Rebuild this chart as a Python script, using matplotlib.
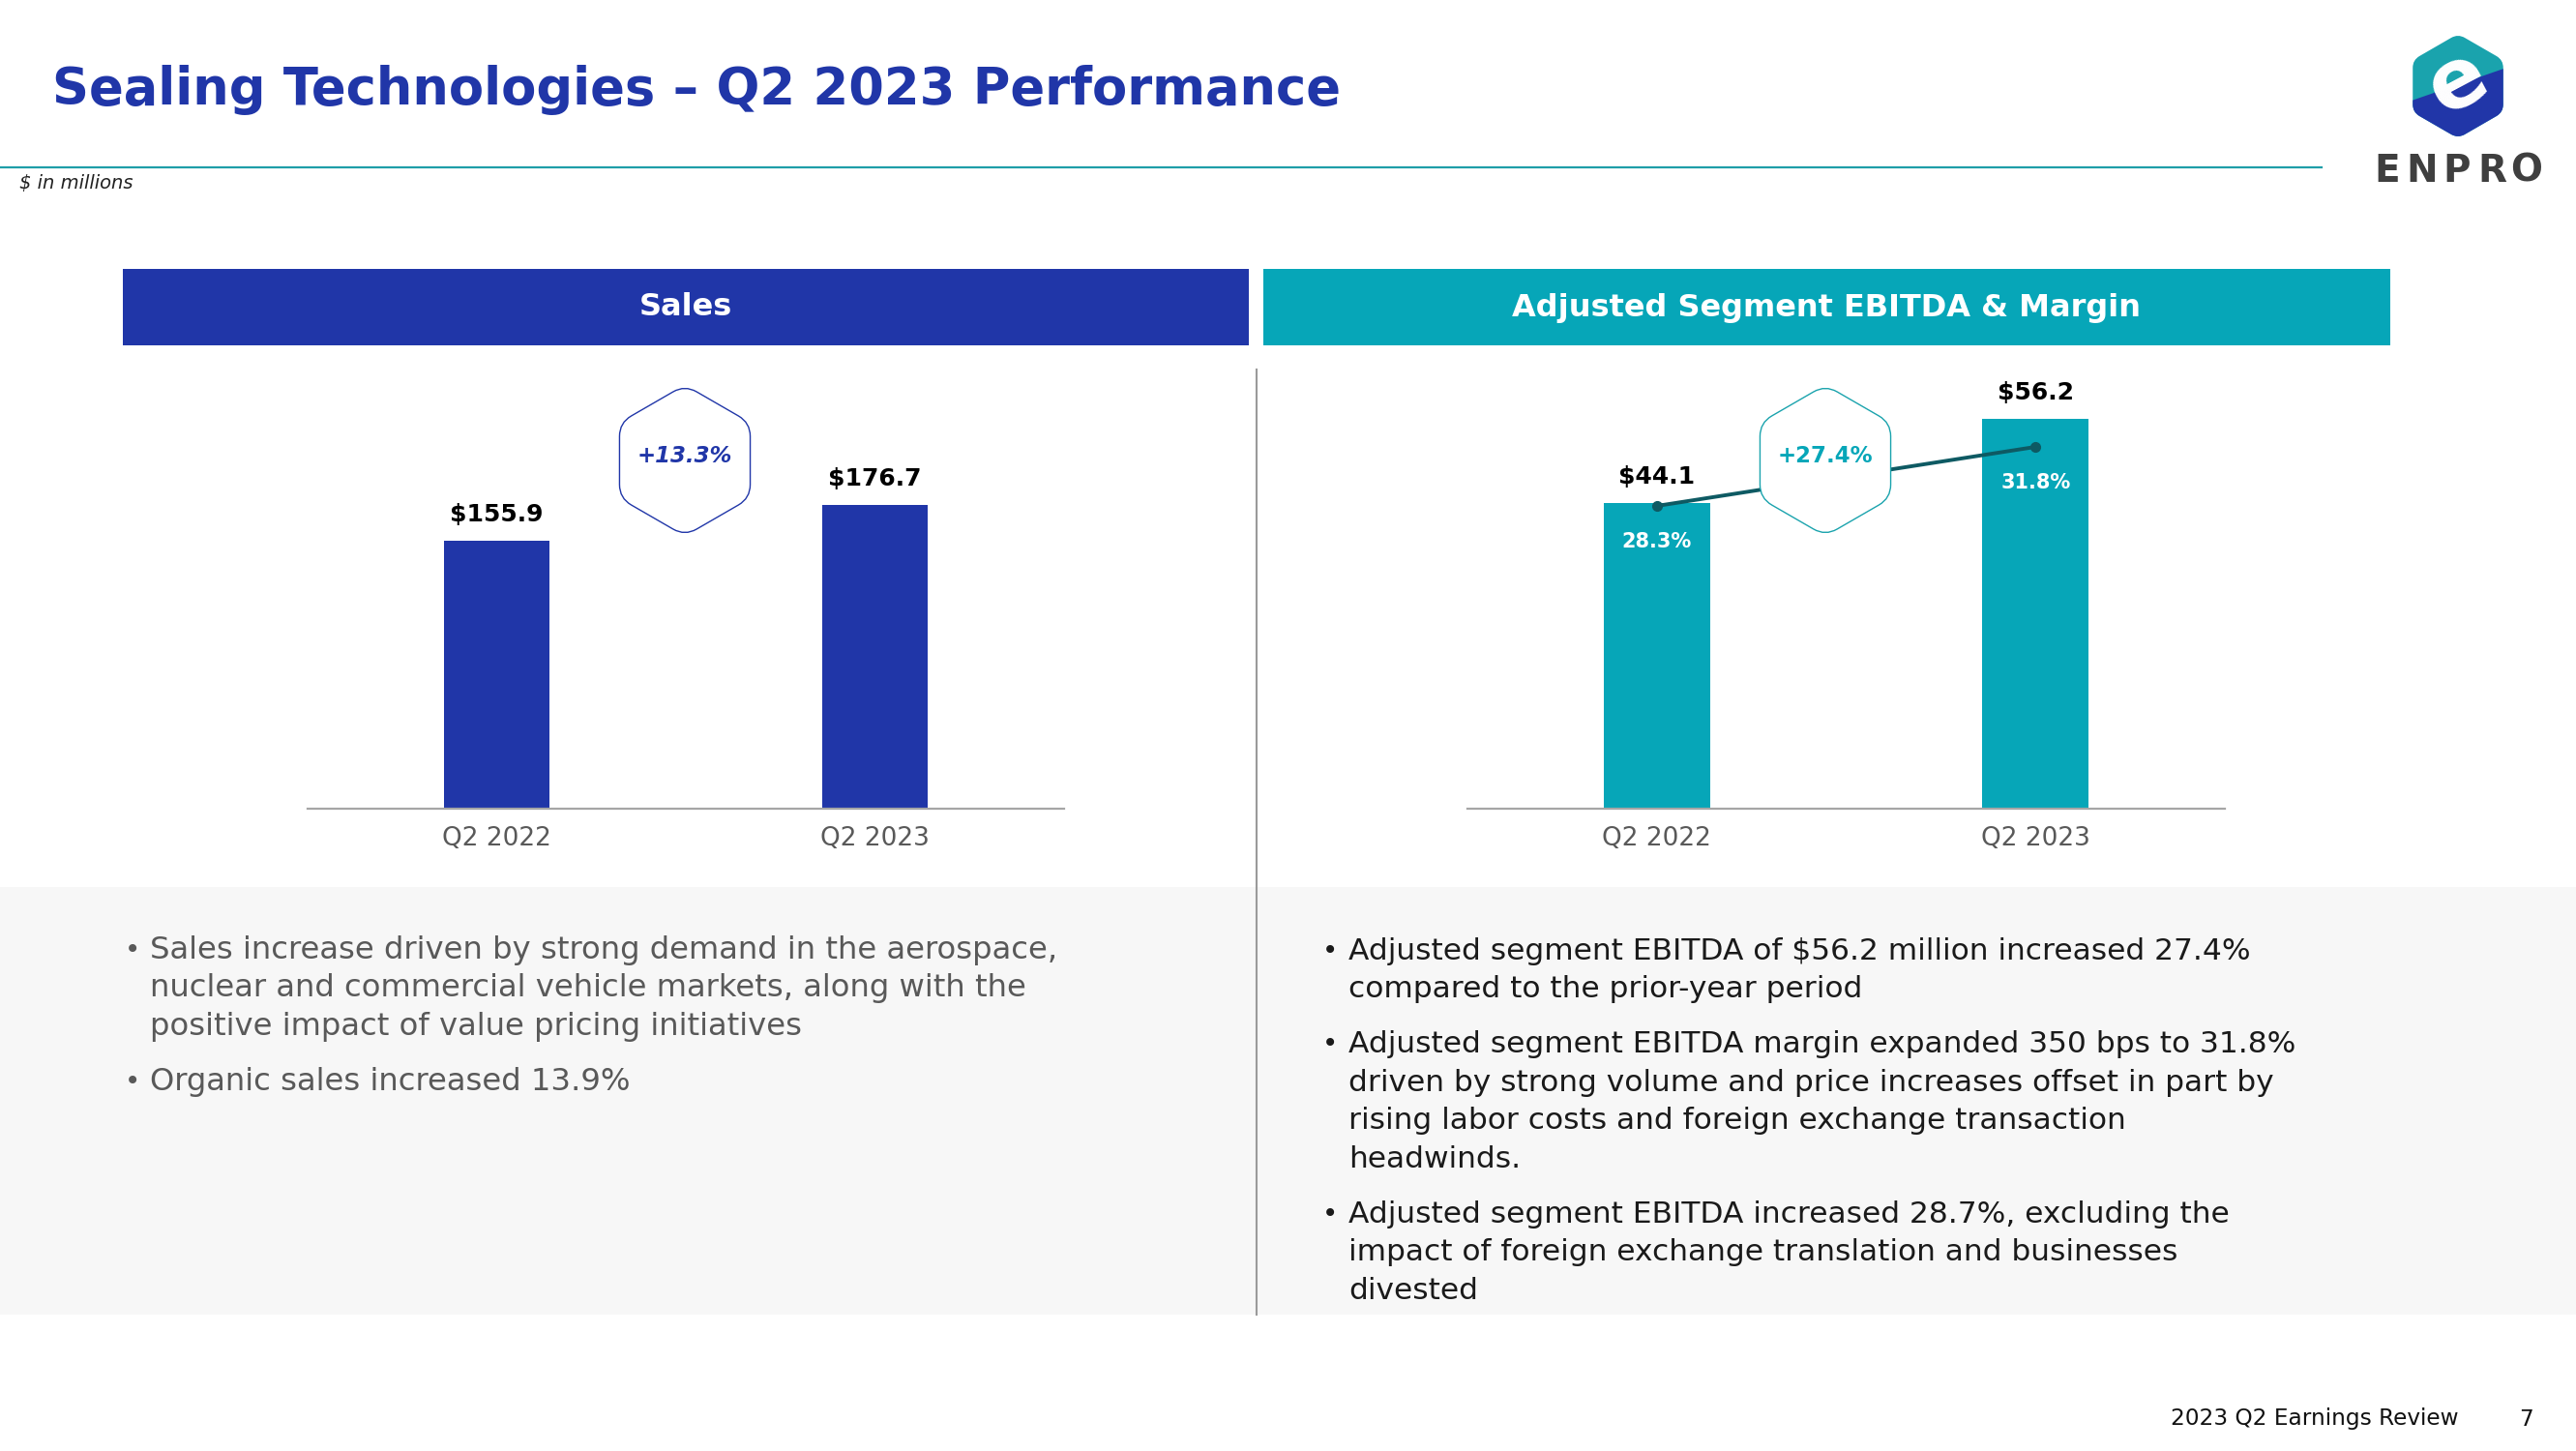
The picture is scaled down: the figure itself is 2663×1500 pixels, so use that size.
import numpy as np
import matplotlib
matplotlib.use('Agg')
import matplotlib.pyplot as plt
from matplotlib.patches import Rectangle, PathPatch, Polygon
from matplotlib.path import Path

W, H = 2663, 1500

periods = ['Q2 2022', 'Q2 2023']
sales = [155.9, 176.7]
ebitda = [44.1, 56.2]
margin = [28.3, 31.8]
sales_growth = '+13.3%'
ebitda_growth = '+27.4%'

sales_notes = [
    ['Sales increase driven by strong demand in the aerospace,',
     'nuclear and commercial vehicle markets, along with the',
     'positive impact of value pricing initiatives'],
    ['Organic sales increased 13.9%'],
]
ebitda_notes = [
    ['Adjusted segment EBITDA of $56.2 million increased 27.4%',
     'compared to the prior-year period'],
    ['Adjusted segment EBITDA margin expanded 350 bps to 31.8%',
     'driven by strong volume and price increases offset in part by',
     'rising labor costs and foreign exchange transaction',
     'headwinds.'],
    ['Adjusted segment EBITDA increased 28.7%, excluding the',
     'impact of foreign exchange translation and businesses',
     'divested'],
]

BLUE = '#2036a8'
TEAL = '#06a6b8'
LINE = '#0e5a63'

plt.rcParams['font.family'] = ['DejaVu Sans']

fig = plt.figure(figsize=(W / 100, H / 100), dpi=100)
fig.patch.set_facecolor('white')


def px_axes(x0, x1, y_top, y_bot, **kw):
    return fig.add_axes([x0 / W, 1 - y_bot / H, (x1 - x0) / W, (y_bot - y_top) / H], **kw)


def rounded_hex(cx, cy, r, rad=12):
    # pointy-top hexagon with rounded corners, in pixel coords
    ang = np.radians(90 + 60 * np.arange(6))
    pts = np.c_[cx + r * np.cos(ang), cy - r * np.sin(ang)]
    verts, codes = [], []
    for i in range(6):
        p, prev, nxt = pts[i], pts[i - 1], pts[(i + 1) % 6]
        a = p + (prev - p) / np.linalg.norm(prev - p) * rad
        b = p + (nxt - p) / np.linalg.norm(nxt - p) * rad
        verts += [a, p, b]
        codes += [Path.LINETO if i else Path.MOVETO, Path.CURVE3, Path.CURVE3]
    verts.append(verts[0])
    codes.append(Path.CLOSEPOLY)
    return Path(verts, codes)


# background / decoration layer
bg = fig.add_axes([0, 0, 1, 1], zorder=0)
bg.set_xlim(0, W)
bg.set_ylim(H, 0)
bg.axis('off')
bg.add_patch(Rectangle((0, 917), W, 442, color='#f7f7f7', lw=0))
bg.add_patch(Rectangle((127, 278), 1164, 79, color=BLUE, lw=0))
bg.add_patch(Rectangle((1306, 278), 1165, 79, color=TEAL, lw=0))
bg.plot([1299, 1299], [382, 1359], color='#9a9a9a', lw=1.5)
bg.plot([0, 2400], [173, 173], color='#1e9ea8', lw=1.6)

bg.text(54, 93, 'Sealing Technologies \u2013 Q2 2023 Performance', color=BLUE,
        fontsize=38, fontweight='bold', va='center', ha='left')
bg.text(20, 190, '$ in millions', fontsize=14, style='italic', va='center', color='#222222')
bg.text(709, 318, 'Sales', color='white', fontsize=23, fontweight='bold', ha='center', va='center')
bg.text(1888, 318, 'Adjusted Segment EBITDA & Margin', color='white', fontsize=23,
        fontweight='bold', ha='center', va='center')
bg.text(2542, 1467, '2023 Q2 Earnings Review', fontsize=16.7, ha='right', va='center', color='#111111')
bg.text(2612, 1467, '7', fontsize=16.7, ha='center', va='center', color='#111111')

# logo
logo = PathPatch(rounded_hex(2541, 89, 54, 8), facecolor='#1aa3ad', lw=0)
bg.add_patch(logo)
low = Polygon([(2470, 112), (2620, 60), (2620, 160), (2470, 160)], closed=True,
              facecolor='#2136a8', lw=0)
bg.add_patch(low)
low.set_clip_path(logo)
bg.text(2541, 86, 'e', color='white', fontsize=62, fontweight='bold', ha='center', va='center',
        rotation=28)
for i, ch in enumerate('ENPRO'):
    bg.text(2468 + i * 36, 177, ch, color='#3f3f3f', fontsize=28, fontweight='bold',
            ha='center', va='center')


# notes
def draw_notes(notes, x_bullet, x_text, y0, color, size):
    y = y0
    for lines in notes:
        bg.text(x_bullet, y, '\u2022', fontsize=20, color=color, va='center', ha='left')
        for ln in lines:
            bg.text(x_text, y, ln, fontsize=size, color=color, va='center', ha='left')
            y += 39.7
        y += 17


draw_notes(sales_notes, 129, 155, 982, '#595959', 23.2)
draw_notes(ebitda_notes, 1367, 1394, 983, '#1a1a1a', 22.5)


def style_axes(ax):
    ax.patch.set_visible(False)
    for s in ['top', 'right', 'left']:
        ax.spines[s].set_visible(False)
    ax.spines['bottom'].set_color('#a6a6a6')
    ax.spines['bottom'].set_linewidth(1.6)
    ax.set_yticks([])
    ax.set_xlim(-0.5, 1.5)
    x = np.arange(len(periods))
    ax.set_xticks(x, periods)
    ax.tick_params(axis='x', length=0, pad=13, labelsize=19, labelcolor='#595959')
    return x


def value_labels(ax, x, vals):
    for xi, v in zip(x, vals):
        ax.annotate(f'${v:.1f}', (xi, v), xytext=(0, 19.5), textcoords='offset points',
                    ha='center', va='center', fontsize=18, fontweight='bold', color='black')


# sales chart
ax1 = px_axes(318, 1100, 380, 836, zorder=2)
x = style_axes(ax1)
ax1.set_ylim(0, 155.9 * 456 / 277)
ax1.bar(x, sales, width=0.28, color=BLUE)
value_labels(ax1, x, sales)

# ebitda chart
ax2 = px_axes(1517, 2300, 380, 836, zorder=2)
x = style_axes(ax2)
ax2.set_ylim(0, 44.1 * 456 / 316)
ax2.bar(x, ebitda, width=0.28, color=TEAL)
value_labels(ax2, x, ebitda)

ax2t = ax2.twinx()
ax2t.patch.set_visible(False)
ax2t.axis('off')
lo = 28.3 - 313 / 17.43
ax2t.set_ylim(lo, lo + 456 / 17.43)
ax2t.plot(x, margin, color=LINE, lw=2.8, marker='o', ms=7)
for xi, m in zip(x, margin):
    ax2t.annotate(f'{m:.1f}%', (xi, m), xytext=(0, -26.5), textcoords='offset points',
                  ha='center', va='center', fontsize=15, fontweight='bold', color='white')

# growth badges on top
top = fig.add_axes([0, 0, 1, 1], zorder=10)
top.set_xlim(0, W)
top.set_ylim(H, 0)
top.axis('off')
top.patch.set_visible(False)
for cx, col, tcol, txt, st in [(708, BLUE, BLUE, sales_growth, 'italic'),
                               (1887, '#1aa3ad', TEAL, ebitda_growth, 'normal')]:
    top.add_patch(PathPatch(rounded_hex(cx, 476, 78, 14), facecolor='white', edgecolor=col, lw=1.0))
    top.text(cx, 472, txt, color=tcol, fontsize=16.5, fontweight='bold',
             style=st, ha='center', va='center')

fig.savefig('out.png', dpi=100)
